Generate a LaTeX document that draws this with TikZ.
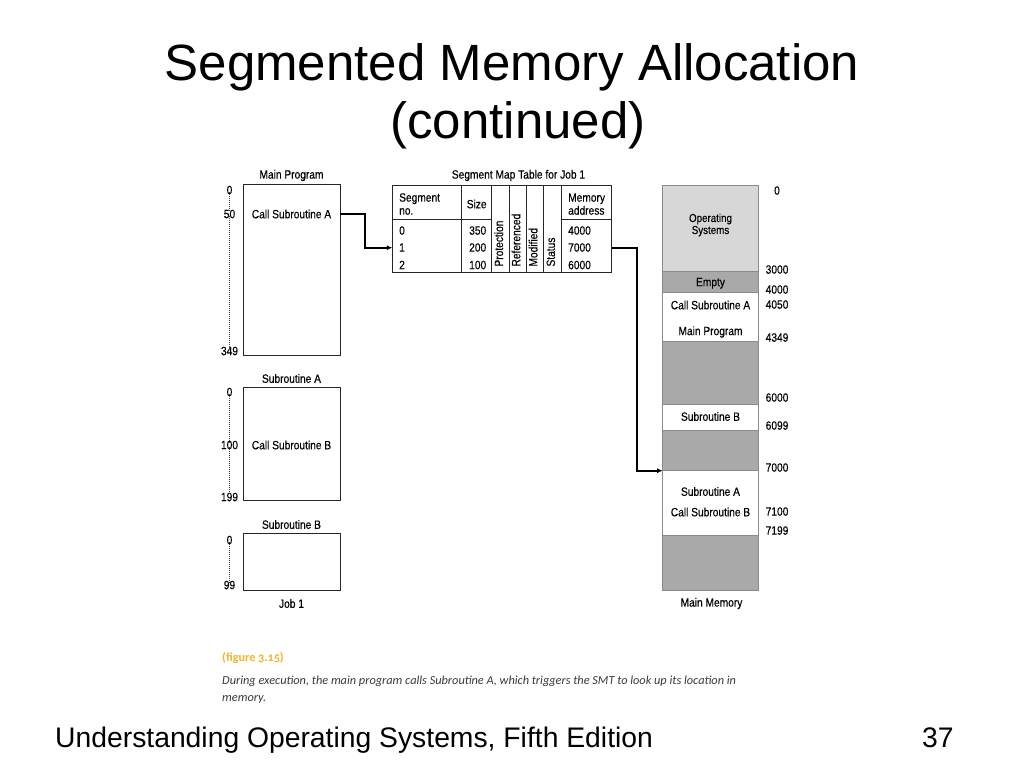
\documentclass[tikz,border=0pt]{standalone}
\usepackage{fontspec}
\setmainfont{Liberation Sans}
\newfontfamily\cond[FakeStretch=0.85,FakeBold=0.3]{Liberation Sans}
\newfontfamily\capfont[Numbers=OldStyle]{Carlito}
\usetikzlibrary{arrows.meta}
\definecolor{osgray}{HTML}{D7D7D7}
\definecolor{dkgray}{HTML}{A9A9A9}
\definecolor{edgegray}{HTML}{8A8A8A}
\definecolor{figorange}{HTML}{F2B52A}
\definecolor{captxt}{HTML}{3A3A3A}
\begin{document}
\begin{tikzpicture}[x=1pt,y=-1pt,
  lbl/.style={font=\cond\fontsize{12}{14}\selectfont, inner sep=0pt, text=black},
  boxnode/.style={draw=black!85, line width=1pt, minimum width=97pt, inner sep=0pt, outer sep=0pt},
  region/.style={draw=edgegray, line width=0.8pt, minimum width=95.6pt, inner sep=0pt, outer sep=0pt, anchor=north west},
  tline/.style={draw=black!85, line width=0.9pt},
  dots/.style={draw=black!75, line width=1.2pt, dash pattern=on 1pt off 1pt},
  conn/.style={draw=black, line width=1.6pt, -{Latex[length=5.5pt,width=5pt]}},
  titlefont/.style={font=\fontsize{51}{58}\selectfont, inner sep=0pt},
  footfont/.style={font=\fontsize{28.3}{32}\selectfont, inner sep=0pt}
]
\useasboundingbox[fill=white] (0,0) rectangle (1024,768);

% Title
\node[titlefont, anchor=base] (title1) at (512,80) {Segmented Memory Allocation};
\node[titlefont, anchor=base] (title2) at (518,138) {(continued)};

% ---------------- Job 1 ----------------
\node[boxnode, minimum height=171pt] (mainprog) at (291.5,269.5) {};
\node[lbl] (mainprogT) at (291.5,175.5) {Main Program};
\node[lbl] (callA) at (291.5,214) {Call Subroutine A};
\node[lbl] (m0) at (229.5,190) {0};
\node[lbl] (m50) at (229.5,214) {50};
\node[lbl] (m349) at (229.5,351) {349};
\draw[dots] ([yshift=2pt]m0.south) -- ([yshift=-2pt]m50.north);
\draw[dots] ([yshift=2pt]m50.south) -- ([yshift=-2pt]m349.north);

\node[boxnode, minimum height=113pt] (subA) at (291.5,443.5) {};
\node[lbl] (subAT) at (291.5,378.5) {Subroutine A};
\node[lbl] (callB) at (291.5,445) {Call Subroutine B};
\node[lbl] (a0) at (229.5,392) {0};
\node[lbl] (a100) at (229.5,445) {100};
\node[lbl] (a199) at (229.5,497) {199};
\draw[dots] ([yshift=2pt]a0.south) -- ([yshift=-2pt]a100.north);
\draw[dots] ([yshift=2pt]a100.south) -- ([yshift=-2pt]a199.north);

\node[boxnode, minimum height=57pt] (subB) at (291.5,561.5) {};
\node[lbl] (subBT) at (291.5,524.5) {Subroutine B};
\node[lbl] (b0) at (229.5,540) {0};
\node[lbl] (b99) at (229.5,585) {99};
\draw[dots] ([yshift=2pt]b0.south) -- ([yshift=-2pt]b99.north);
\node[lbl] (job1) at (291.5,603.5) {Job 1};

% ---------------- Segment Map Table ----------------
\node[lbl] (smtT) at (518.5,175.5) {Segment Map Table for Job 1};
\node[draw=black!85, line width=1pt, minimum width=219.4pt, minimum height=87pt, inner sep=0pt, outer sep=0pt] (smt) at (502,229.2) {};
\draw[tline] (461.7,185.7) -- (461.7,272.7);
\draw[tline] (491.7,185.7) -- (491.7,272.7);
\draw[tline] (509,185.7) -- (509,272.7);
\draw[tline] (526,185.7) -- (526,272.7);
\draw[tline] (543.3,185.7) -- (543.3,272.7);
\draw[tline] (561,185.7) -- (561,272.7);
\draw[tline] (392.3,219.3) -- (491.7,219.3);
\draw[tline] (561,219.3) -- (611.7,219.3);

\node[lbl, anchor=mid west] (hseg) at (399,199) {Segment};
\node[lbl, anchor=mid west] (hno) at (399,212) {no.};
\node[lbl] (hsize) at (476.7,204) {Size};
\node[lbl, anchor=mid west] (hmem) at (568,199) {Memory};
\node[lbl, anchor=mid west] (haddr) at (568,212) {address};
\node[lbl, rotate=90, anchor=mid west] (hprot) at (500.4,266.7) {Protection};
\node[lbl, rotate=90, anchor=mid west] (href) at (517.6,266.7) {Referenced};
\node[lbl, rotate=90, anchor=mid west] (hmod) at (534.8,266.7) {Modified};
\node[lbl, rotate=90, anchor=mid west] (hstat) at (552.3,266.7) {Status};

\node[lbl, anchor=mid west] (r0a) at (399,232) {0};
\node[lbl, anchor=mid west] (r1a) at (399,249) {1};
\node[lbl, anchor=mid west] (r2a) at (399,266.5) {2};
\node[lbl, anchor=mid west] (r0b) at (469,232) {350};
\node[lbl, anchor=mid west] (r1b) at (469,249) {200};
\node[lbl, anchor=mid west] (r2b) at (469,266.5) {100};
\node[lbl, anchor=mid west] (r0c) at (568,232) {4000};
\node[lbl, anchor=mid west] (r1c) at (568,249) {7000};
\node[lbl, anchor=mid west] (r2c) at (568,266.5) {6000};

\coordinate (row1) at (392.3,247.7);

% ---------------- Main Memory ----------------
\node[region, fill=osgray, minimum height=86.7pt] (osreg) at (662.7,185) {};
\node[region, fill=dkgray, minimum height=21pt] (emptyreg) at (662.7,271.7) {};
\node[region, fill=white, minimum height=49pt] (mainreg) at (662.7,292.7) {};
\node[region, fill=dkgray, minimum height=62.6pt] (gap1) at (662.7,341.7) {};
\node[region, fill=white, minimum height=25.7pt] (subBreg) at (662.7,404.3) {};
\node[region, fill=dkgray, minimum height=40.7pt] (gap2) at (662.7,430) {};
\node[region, fill=white, minimum height=64.3pt] (subAreg) at (662.7,470.7) {};
\node[region, fill=dkgray, minimum height=55pt] (gap3) at (662.7,535) {};

\node[lbl, align=center, font=\cond\fontsize{11.5}{12}\selectfont] (ostext) at (710.5,225) {Operating\\Systems};
\node[lbl] (emptytext) at (710.5,283.3) {Empty};
\node[lbl] (memcallA) at (710.5,305) {Call Subroutine A};
\node[lbl] (memmain) at (710.5,332) {Main Program};
\node[lbl] (memsubB) at (710.5,416.5) {Subroutine B};
\node[lbl] (memsubA) at (710.5,491.5) {Subroutine A};
\node[lbl] (memcallB) at (710.5,512) {Call Subroutine B};
\node[lbl] (memT) at (711.5,603.5) {Main Memory};

\node[lbl] (ad0) at (777,190.5) {0};
\node[lbl, anchor=mid west] (ad3000) at (765.5,271) {3000};
\node[lbl, anchor=mid west] (ad4000) at (765.5,291) {4000};
\node[lbl, anchor=mid west] (ad4050) at (765.5,306) {4050};
\node[lbl, anchor=mid west] (ad4349) at (765.5,339) {4349};
\node[lbl, anchor=mid west] (ad6000) at (765.5,399) {6000};
\node[lbl, anchor=mid west] (ad6099) at (765.5,427) {6099};
\node[lbl, anchor=mid west] (ad7000) at (765.5,469) {7000};
\node[lbl, anchor=mid west] (ad7100) at (765.5,513) {7100};
\node[lbl, anchor=mid west] (ad7199) at (765.5,532) {7199};

% ---------------- Connectors ----------------
\coordinate (bend1) at (365,214);
\coordinate (bend2) at (637,247.7);
\draw[conn] (mainprog.east |- callA) -- (bend1) |- (smt.west |- row1);
\draw[conn] (smt.east |- row1) -- (bend2) |- (subAreg.north west);

% ---------------- Caption ----------------
\node[anchor=base west, inner sep=0pt, text=figorange, font=\capfont\bfseries\fontsize{12.2}{14}\selectfont] (figlbl) at (222,661) {(figure 3.15)};
\node[anchor=base west, inner sep=0pt, text=captxt, font=\capfont\itshape\fontsize{12.3}{14}\selectfont] (cap1) at (222,684) {During execution, the main program calls Subroutine A, which triggers the SMT to look up its location in};
\node[anchor=base west, inner sep=0pt, text=captxt, font=\capfont\itshape\fontsize{12.3}{14}\selectfont] (cap2) at (222,701) {memory.};

% ---------------- Footer ----------------
\node[footfont, anchor=base west] (foot) at (55,747.7) {Understanding Operating Systems, Fifth Edition};
\node[footfont, anchor=base west] (pagenum) at (922,747.7) {37};
\end{tikzpicture}
\end{document}
